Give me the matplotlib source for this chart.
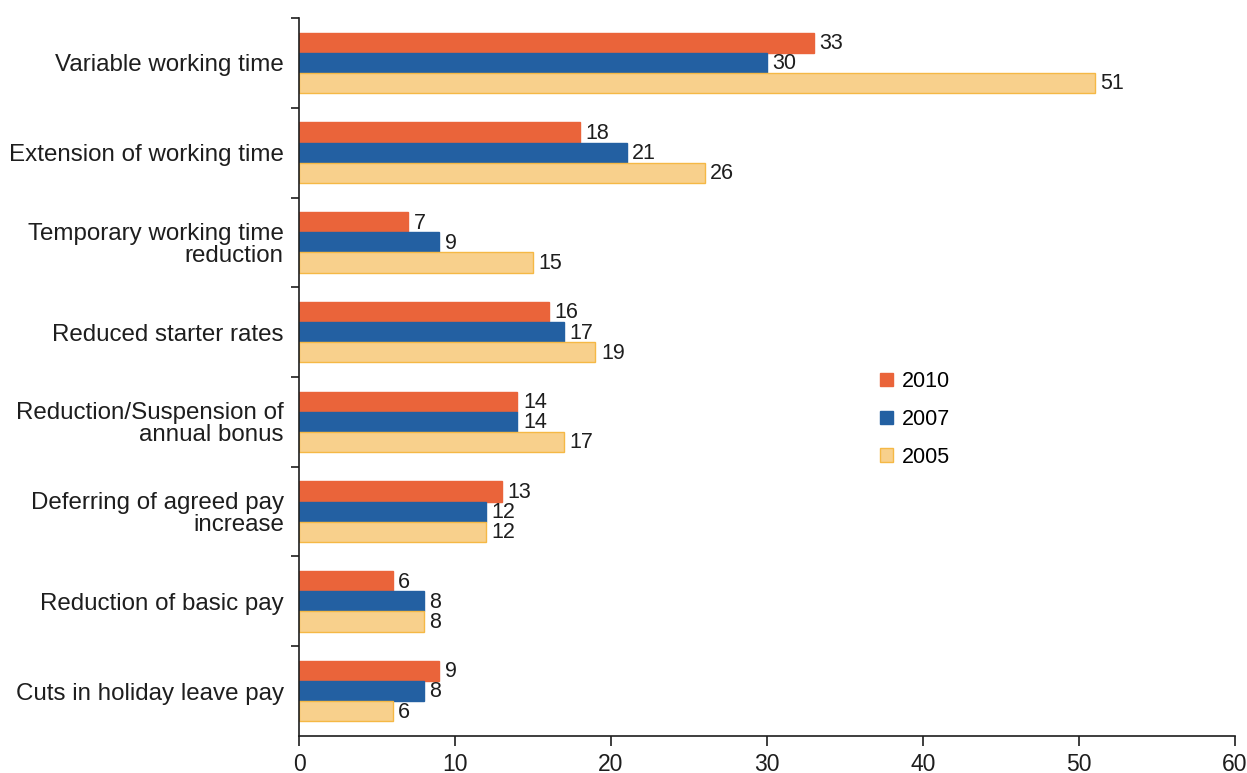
import numpy as np
import matplotlib
matplotlib.use('Agg')
import matplotlib.pyplot as plt
from matplotlib.patches import Patch

plt.rcParams['font.family'] = ['Liberation Sans', 'DejaVu Sans']

categories = ['Variable working time', 'Extension of working time',
              'Temporary working time\nreduction', 'Reduced starter rates',
              'Reduction/Suspension of\nannual bonus', 'Deferring of agreed pay\nincrease',
              'Reduction of basic pay', 'Cuts in holiday leave pay']
vals_2010 = [33, 18, 7, 16, 14, 13, 6, 9]
vals_2007 = [30, 21, 9, 17, 14, 12, 8, 8]
vals_2005 = [51, 26, 15, 19, 17, 12, 8, 6]
years = ['2010', '2007', '2005']

fill = ['#EA643A', '#2360A2', '#F8D08C']
edge = ['#EA643A', '#2360A2', '#F5B845']
txt = '#1e1e1e'

fig = plt.figure(figsize=(12.47, 7.73), dpi=100)
ax = fig.add_axes([0.2398, 0.0479, 0.7506, 0.9288])

n = len(categories)
y = np.arange(n)
h = 0.225
series = [vals_2010, vals_2007, vals_2005]
for k, vals in enumerate(series):
    pos = y + (k - 1) * h
    ax.barh(pos, vals, height=h, color=fill[k], edgecolor=edge[k], linewidth=1)
    for p, v in zip(pos, vals):
        ax.text(v + 0.35, p + 0.01, str(v), va='center', ha='left', fontsize=15.5, color=txt)

ax.set_ylim(n - 0.5, -0.5)
ax.set_xlim(0, 60)
ax.set_yticks(y)
ax.set_yticklabels(categories, fontsize=17.4, color=txt, linespacing=1.0)
ax.set_yticks(np.arange(-0.5, n - 0.5, 1), minor=True)
ax.tick_params(axis='y', which='major', length=0, pad=11)
ax.tick_params(axis='y', which='minor', length=6, width=1.2, direction='out', color=txt)
ax.set_xticks(np.arange(0, 61, 10))
ax.tick_params(axis='x', length=7, width=1.2, direction='out', labelsize=16.5,
               labelcolor=txt, color=txt, pad=5)

for s in ['top', 'right']:
    ax.spines[s].set_visible(False)
for s in ['left', 'bottom']:
    ax.spines[s].set_color(txt)
    ax.spines[s].set_linewidth(1.2)

handles = [Patch(facecolor=fill[k], edgecolor=edge[k], linewidth=1) for k in range(3)]
ax.legend(handles, years, loc='upper left', bbox_to_anchor=(0.6, 0.535),
          frameon=False, fontsize=15.5, handlelength=0.6, handleheight=0.6,
          handletextpad=0.4, labelspacing=0.78)

fig.savefig('out.png', dpi=100, facecolor='white')
plt.close(fig)
